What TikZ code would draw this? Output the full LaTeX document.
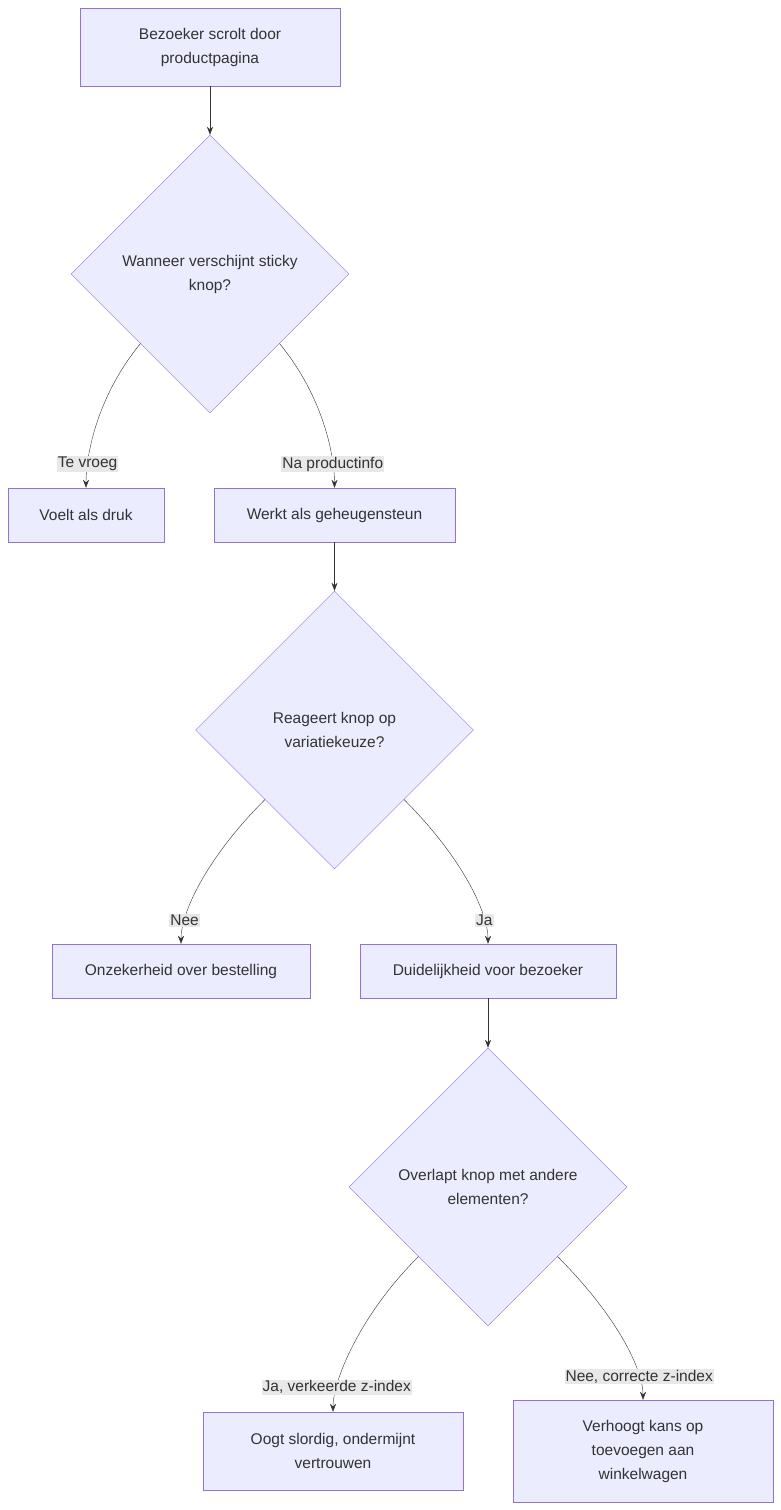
\documentclass[tikz,border=0pt]{standalone}
\usepackage{fontspec}
\setmainfont{Liberation Sans}
\usetikzlibrary{shapes.geometric,arrows.meta}
\definecolor{boxfill}{HTML}{ECECFF}
\definecolor{boxline}{HTML}{9370DB}
\definecolor{lblfill}{HTML}{E8E8E8}
\definecolor{txt}{HTML}{333333}
\tikzset{
	stap/.style = {draw=boxline, fill=boxfill, text=txt, rectangle, align=center, inner sep=0pt},
	keuze/.style = {draw=boxline, fill=boxfill, text=txt, diamond, align=center, inner sep=0pt, minimum width=278pt, minimum height=278pt},
	lbl/.style = {fill=lblfill, text=txt, inner sep=1pt},
	pijl/.style = {draw=txt, -{Stealth[length=8pt,width=6pt]}}
}
\begin{document}
\begin{tikzpicture}[x=1pt, y=-1pt, font=\fontsize{15.5}{24}\selectfont]
	\useasboundingbox (0,0) rectangle (781,1510);

	\node[stap, minimum width=260pt, minimum height=78pt] (start) at (210,47) {Bezoeker scrolt door\\productpagina};
	\node[keuze] (wanneer) at (210,274) {Wanneer verschijnt sticky\\knop?};
	\node[stap, minimum width=156pt, minimum height=54pt] (druk) at (86,515) {Voelt als druk};
	\node[stap, minimum width=241pt, minimum height=54pt] (steun) at (334.5,515) {Werkt als geheugensteun};
	\node[keuze] (reageert) at (334.5,730) {Reageert knop op\\variatiekeuze?};
	\node[stap, minimum width=258pt, minimum height=54pt] (onzeker) at (181,971) {Onzekerheid over bestelling};
	\node[stap, minimum width=256pt, minimum height=54pt] (duidelijk) at (488,971) {Duidelijkheid voor bezoeker};
	\node[keuze] (overlapt) at (488,1187) {Overlapt knop met andere\\elementen?};
	\node[stap, minimum width=260pt, minimum height=78pt] (slordig) at (333,1451) {Oogt slordig, ondermijnt\\vertrouwen};
	\node[stap, minimum width=260pt, minimum height=102pt] (kans) at (643,1451) {Verhoogt kans op\\toevoegen aan\\winkelwagen};

	% verbindingen
	\draw[pijl] (start) -- (wanneer);
	\draw[pijl] (wanneer.south west) .. controls +(-45,55) and +(0,-30) .. (druk.north) node[lbl, pos=0.78] {Te vroeg};
	\draw[pijl] (wanneer.south east) .. controls +(45,55) and +(0,-30) .. (steun.north) node[lbl, pos=0.78] {Na productinfo};
	\draw[pijl] (steun) -- (reageert);
	\draw[pijl] (reageert.south west) .. controls +(-60,60) and +(0,-30) .. (onzeker.north) node[lbl, pos=0.78] {Nee};
	\draw[pijl] (reageert.south east) .. controls +(60,60) and +(0,-30) .. (duidelijk.north) node[lbl, pos=0.78] {Ja};
	\draw[pijl] (duidelijk) -- (overlapt);
	\draw[pijl] (overlapt.south west) .. controls +(-60,60) and +(0,-30) .. (slordig.north) node[lbl, pos=0.78] {Ja, verkeerde z-index};
	\draw[pijl] (overlapt.south east) .. controls +(60,60) and +(0,-30) .. (kans.north) node[lbl, pos=0.78] {Nee, correcte z-index};
\end{tikzpicture}
\end{document}
